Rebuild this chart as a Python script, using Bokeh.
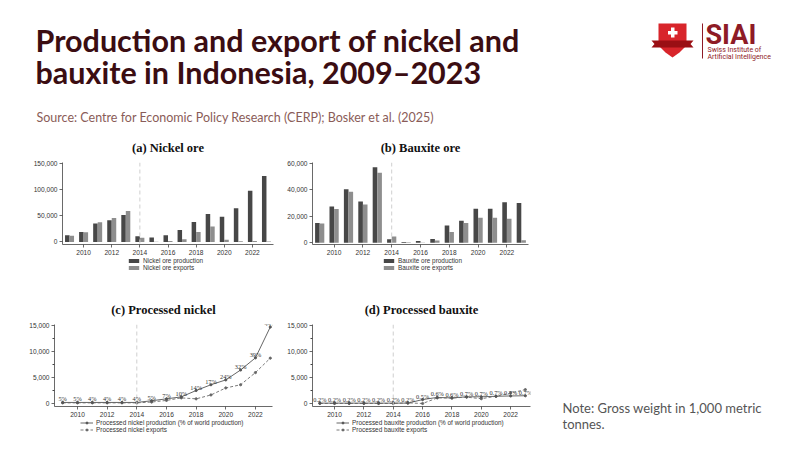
from bokeh.plotting import figure
from bokeh.layouts import column, row
from bokeh.models import (Range1d, Span, LabelSet, Legend, LegendItem, NumeralTickFormatter,
                          FixedTicker, ColumnDataSource)
from bokeh.transform import dodge
from bokeh.embed import file_html
from bokeh.resources import INLINE
from bokeh.core.properties import value

# ---------------- data ----------------
years = [2009, 2010, 2011, 2012, 2013, 2014, 2015, 2016, 2017, 2018, 2019, 2020, 2021, 2022, 2023]
year_ticks = [2010, 2012, 2014, 2016, 2018, 2020, 2022]

nickel_ore_production = [12900, 19000, 35000, 41200, 51600, 11000, 8600, 12900, 22700, 38100, 53500, 48000, 64500, 97700, 126000]
nickel_ore_exports = [11700, 18400, 37500, 45500, 59000, 8000, 300, 1800, 4900, 19000, 29500, 4300, 1200, 1800, 600]

bauxite_ore_production = [15060, 27450, 40560, 31330, 57080, 2670, 730, 1460, 2900, 13100, 16760, 25750, 25700, 30600, 30120]
bauxite_ore_exports = [14570, 25500, 38620, 28900, 52950, 4860, 490, 240, 1700, 8260, 15060, 18950, 18950, 18200, 1940]

processed_nickel_production = [230, 230, 230, 230, 230, 230, 555, 925, 1300, 2530, 3640, 4570, 6480, 8820, 14750]
processed_nickel_exports = [150, 150, 150, 150, 150, 150, 310, 620, 1110, 925, 1670, 3020, 3640, 5980, 8760]
nickel_share_labels = ["5%", "5%", "4%", "4%", "4%", "4%", "5%", "7%", "10%", "14%", "17%", "24%", "32%", "39%", "44%"]

processed_bauxite_production = [100, 100, 100, 100, 100, 100, 100, 780, 1200, 1100, 1320, 1320, 1420, 1480, 1520]
processed_bauxite_exports = [30, 30, 30, 30, 30, 30, 150, 30, 1100, 1080, 1250, 950, 1420, 2050, 2700]
bauxite_share_labels = ["0.2%", "0.2%", "0.2%", "0.2%", "0.2%", "0.2%", "0.2%", "0.5%", "0.6%", "0.6%", "0.7%", "0.7%", "0.7%", "0.7%", "0.7%"]

ore_nickel_ticks = [0, 50000, 100000, 150000]
ore_bauxite_ticks = [0, 20000, 40000, 60000]
processed_ticks = [0, 5000, 10000, 15000]
processed_minor = [2500, 7500, 12500]

# ---------------- style ----------------
SANS = "Liberation Sans"
SERIF = "Liberation Serif"
AX = "#444444"
DARK = "#474747"
LIGHT = "#8e8e8e"
PROD_LINE = "#666666"
EXP_LINE = "#7a7a7a"
TITLE_COL = "#3b0d12"
LOGO_COL = "#8e1b26"


def base_fig(w, h, xr, yr, title, ml, mr, mt, mb):
    p = figure(width=w, height=h, x_range=Range1d(xr[0], xr[1]), y_range=Range1d(yr[0], yr[1]),
               toolbar_location=None, output_backend="svg",
               min_border_left=ml, min_border_right=mr, min_border_top=mt, min_border_bottom=mb)
    p.outline_line_color = None
    p.xgrid.grid_line_color = None
    p.ygrid.grid_line_color = None
    p.title.text = title
    p.title.align = "center"
    p.title.text_font = SERIF
    p.title.text_font_style = "bold"
    p.title.text_font_size = "12.5px"
    p.title.text_color = "#111111"
    p.title.standoff = 16
    for ax in (p.xaxis[0], p.yaxis[0]):
        ax.axis_line_color = AX
        ax.axis_line_width = 0.8
        ax.major_tick_line_color = AX
        ax.major_tick_line_width = 0.8
        ax.major_tick_out = 3
        ax.major_tick_in = 0
        ax.minor_tick_line_color = None
        ax.major_label_text_font = SANS
        ax.major_label_text_font_size = "6.6px"
        ax.major_label_text_color = "#333333"
        ax.major_label_standoff = 2
    p.xaxis.ticker = FixedTicker(ticks=year_ticks)
    p.yaxis.formatter = NumeralTickFormatter(format="0,0")
    p.add_layout(Span(location=2014, dimension="height", line_color="#cfcfcf",
                      line_dash="4 3", line_width=1))
    return p


def bar_glyphs(p, src):
    r1 = p.vbar(x=dodge("year", -0.16, range=p.x_range), top="prod", width=0.32,
                source=src, fill_color=DARK, line_color=None)
    r2 = p.vbar(x=dodge("year", 0.16, range=p.x_range), top="exp", width=0.32,
                source=src, fill_color=LIGHT, line_color=None)
    return [r1], [r2]


def line_glyphs(p, src):
    l2 = p.line("year", "exp", source=src, line_color=EXP_LINE, line_width=1, line_dash="3 2")
    s2 = p.scatter("year", "exp", source=src, size=2.2, fill_color="#666666", line_color="#666666")
    l1 = p.line("year", "prod", source=src, line_color=PROD_LINE, line_width=1)
    s1 = p.scatter("year", "prod", source=src, size=2.2, fill_color="#555555", line_color="#555555")
    return [l1, s1], [l2, s2]


def bar_fig(w, h, xr, yr, title, ml, mr, mt, mb, src, ticks):
    p = base_fig(w, h, xr, yr, title, ml, mr, mt, mb)
    p.yaxis.ticker = FixedTicker(ticks=ticks)
    bar_glyphs(p, src)
    return p


def line_fig(w, h, xr, yr, title, ml, mr, mt, mb, src):
    p = base_fig(w, h, xr, yr, title, ml, mr, mt, mb)
    p.yaxis.ticker = FixedTicker(ticks=processed_ticks, minor_ticks=processed_minor)
    p.yaxis.minor_tick_line_color = AX
    p.yaxis.minor_tick_out = 2
    p.yaxis.minor_tick_in = 0
    line_glyphs(p, src)
    p.add_layout(LabelSet(x="year", y="prod", text="lab", source=src, text_font=SANS,
                          text_font_size="6.3px", text_align="center", text_baseline="bottom",
                          y_offset=0, text_color="#333333"))
    return p


def plain_canvas(w, h, ml=0):
    p = figure(width=w, height=h, x_range=Range1d(0, w - ml), y_range=Range1d(0, h),
               x_axis_type=None, y_axis_type=None, toolbar_location=None, output_backend="svg",
               min_border=0, min_border_left=ml, title=None)
    p.outline_line_color = None
    p.xgrid.grid_line_color = None
    p.ygrid.grid_line_color = None
    return p


def legend_fig(w, h, ml, kind, src, lab_p, lab_e):
    # legend strip below a panel; the series are drawn again here but fall outside
    # this strip's ranges, so only the legend swatches are visible
    p = plain_canvas(w, h, ml)
    r1, r2 = (bar_glyphs if kind == "bar" else line_glyphs)(p, src)
    lg = Legend(items=[LegendItem(label=lab_p, renderers=r1), LegendItem(label=lab_e, renderers=r2)],
                orientation="vertical", location="top_left")
    lg.border_line_color = None
    lg.background_fill_alpha = 0
    lg.label_text_font = SANS
    lg.label_text_font_size = "6.4px"
    lg.label_text_color = "#333333"
    lg.glyph_width = 13
    lg.glyph_height = 5
    lg.label_height = 7
    lg.label_standoff = 3
    lg.spacing = 0
    lg.padding = 1
    lg.margin = 0
    p.add_layout(lg)
    return p


src_a = ColumnDataSource(dict(year=years, prod=nickel_ore_production, exp=nickel_ore_exports))
src_b = ColumnDataSource(dict(year=years, prod=bauxite_ore_production, exp=bauxite_ore_exports))
src_c = ColumnDataSource(dict(year=years, prod=processed_nickel_production,
                              exp=processed_nickel_exports, lab=nickel_share_labels))
src_d = ColumnDataSource(dict(year=years, prod=processed_bauxite_production,
                              exp=processed_bauxite_exports, lab=bauxite_share_labels))

fig_a = bar_fig(280, 127, (2008.5, 2023.5), (-5000, 151800), "(a) Nickel ore", 62, 7, 30, 12,
                src_a, ore_nickel_ticks)
fig_b = bar_fig(265, 127, (2008.5, 2023.5), (-1240, 60730), "(b) Bauxite ore", 32, 17, 30, 12,
                src_b, ore_bauxite_ticks)
leg_a = legend_fig(280, 35, 127, "bar", src_a, "Nickel ore production", "Nickel ore exports")
leg_b = legend_fig(265, 35, 102, "bar", src_b, "Bauxite ore production", "Bauxite ore exports")

fig_c = line_fig(280, 127, (2008.45, 2023.15), (-550, 15240), "(c) Processed nickel", 54, 8, 29, 12, src_c)
fig_d = line_fig(265, 127, (2008.5, 2023.35), (-550, 15240), "(d) Processed bauxite", 32, 15, 29, 12, src_d)
leg_c = legend_fig(280, 23, 80, "line", src_c, "Processed nickel production (% of world production)",
                   "Processed nickel exports")
leg_d = legend_fig(265, 23, 56, "line", src_d, "Processed bauxite production (% of world production)",
                   "Processed bauxite exports")

# ---------------- header ----------------
H = 130
hdr = plain_canvas(792, H)
hdr.text(x=[35, 35], y=[H - 39, H - 71],
         text=["Production and export of nickel and", "bauxite in Indonesia, 2009\u20132023"],
         text_font=value("Lato"), text_font_style="bold", text_font_size="30.5px",
         text_color=TITLE_COL, text_baseline="middle")
hdr.text(x=[36], y=[H - 117],
         text=["Source: Centre for Economic Policy Research (CERP); Bosker et al. (2025)"],
         text_font=value("Lato"), text_font_size="12.5px", text_color="#8a5c58",
         text_baseline="middle")

# logo (page pixel coordinates converted to bottom-up)
shield_x = [658, 686, 686, 684, 679, 672, 665, 660, 658]
shield_y = [23, 23, 40, 47, 52, 57, 52, 47, 40]
hdr.patch(shield_x, [H - v for v in shield_y], fill_color="#d8252b", line_color=None)
ribbon_x = [651, 693, 690, 693, 651, 654]
ribbon_y = [40, 40, 43.5, 47, 47, 43.5]
hdr.patch(ribbon_x, [H - v for v in ribbon_y], fill_color="#9a0f14", line_color=None)
hdr.quad(left=[670.5, 667.5], right=[674, 677], top=[H - 27, H - 30.5], bottom=[H - 37, H - 34],
         fill_color="white", line_color=None)
hdr.segment(x0=[702], y0=[H - 23], x1=[702], y1=[H - 58], line_color=LOGO_COL, line_width=1)
hdr.text(x=[705], y=[H - 34], text=["SIAI"], text_font=value("Roboto"), text_font_style="bold",
         text_font_size="27px", text_color=LOGO_COL, text_baseline="middle")
hdr.text(x=[707, 707], y=[H - 49, H - 56], text=["Swiss Institute of", "Artificial Intelligence"],
         text_font=value("Roboto"), text_font_size="7px", text_color=LOGO_COL,
         text_baseline="middle")

# ---------------- note ----------------
NH = 312
note = plain_canvas(247, NH)
note.text(x=[17, 17], y=[NH - (407 - 130), NH - (423 - 130)],
          text=["Note: Gross weight in 1,000 metric", "tonnes."],
          text_font=value("Lato"), text_font_size="13px", text_color="#555555",
          text_baseline="middle")

left_block = column(row(fig_a, fig_b), row(leg_a, leg_b), row(fig_c, fig_d), row(leg_c, leg_d))
layout = column(hdr, row(left_block, note))

open("out.html", "w").write(file_html(layout, INLINE))
